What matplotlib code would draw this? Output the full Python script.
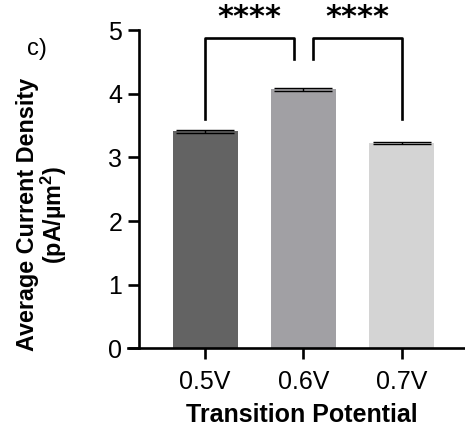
import matplotlib
matplotlib.use("Agg")
import matplotlib.pyplot as plt

categories = ["0.5V", "0.6V", "0.7V"]
values = [3.41, 4.07, 3.22]
errors = [0.025, 0.02, 0.015]
colors = ["#636363", "#a1a0a4", "#d4d4d4"]
stars = ["****", "****"]

plt.rcParams['font.family'] = ['Liberation Sans', 'DejaVu Sans']

fig = plt.figure(figsize=(4.65, 4.32), dpi=100)
ax = fig.add_axes([0.299, 0.194, 0.701, 0.736])

x = list(range(len(categories)))
ax.bar(x, values, width=0.66, color=colors, zorder=2)
ax.errorbar(x, values, yerr=errors, fmt='none', ecolor='black', elinewidth=1.0,
            capsize=21, capthick=1.0, zorder=3)

ax.set_xlim(-0.67, 2.64)
ax.set_ylim(0, 5)
ax.set_yticks([0, 1, 2, 3, 4, 5])
ax.set_xticks(x)
ax.set_xticklabels(categories)
for s in ['top', 'right']:
    ax.spines[s].set_visible(False)
for s in ['left', 'bottom']:
    ax.spines[s].set_linewidth(1.9)
ax.spines['bottom'].set_bounds(-0.78, 2.64)
ax.tick_params(axis='both', width=1.9, length=8, labelsize=18, pad=4)
ax.tick_params(axis='x', pad=8)

ax.set_xlabel("Transition Potential", fontsize=18, fontweight='bold', labelpad=6)
ax.set_ylabel("Average Current Density\n(pA/µm$^\\mathregular{2}$)", fontsize=16.8,
              fontweight='bold', linespacing=1.0)
ax.yaxis.set_label_coords(-0.215, 0.42)

# significance brackets
lw = 1.9
ax.plot([0, 0, 0.9, 0.9], [3.6, 4.88, 4.88, 4.55], color='black', lw=lw, clip_on=False)
ax.plot([1.1, 1.1, 2.0, 2.0], [4.55, 4.88, 4.88, 3.6], color='black', lw=lw, clip_on=False)
ax.text(0.45, 4.97, stars[0], ha='center', va='bottom', fontsize=22, fontweight='bold',
        family='DejaVu Sans')
ax.text(1.55, 4.97, stars[1], ha='center', va='bottom', fontsize=22, fontweight='bold',
        family='DejaVu Sans')

fig.text(0.058, 0.872, "c)", fontsize=17)

fig.savefig("out.png", dpi=100)
